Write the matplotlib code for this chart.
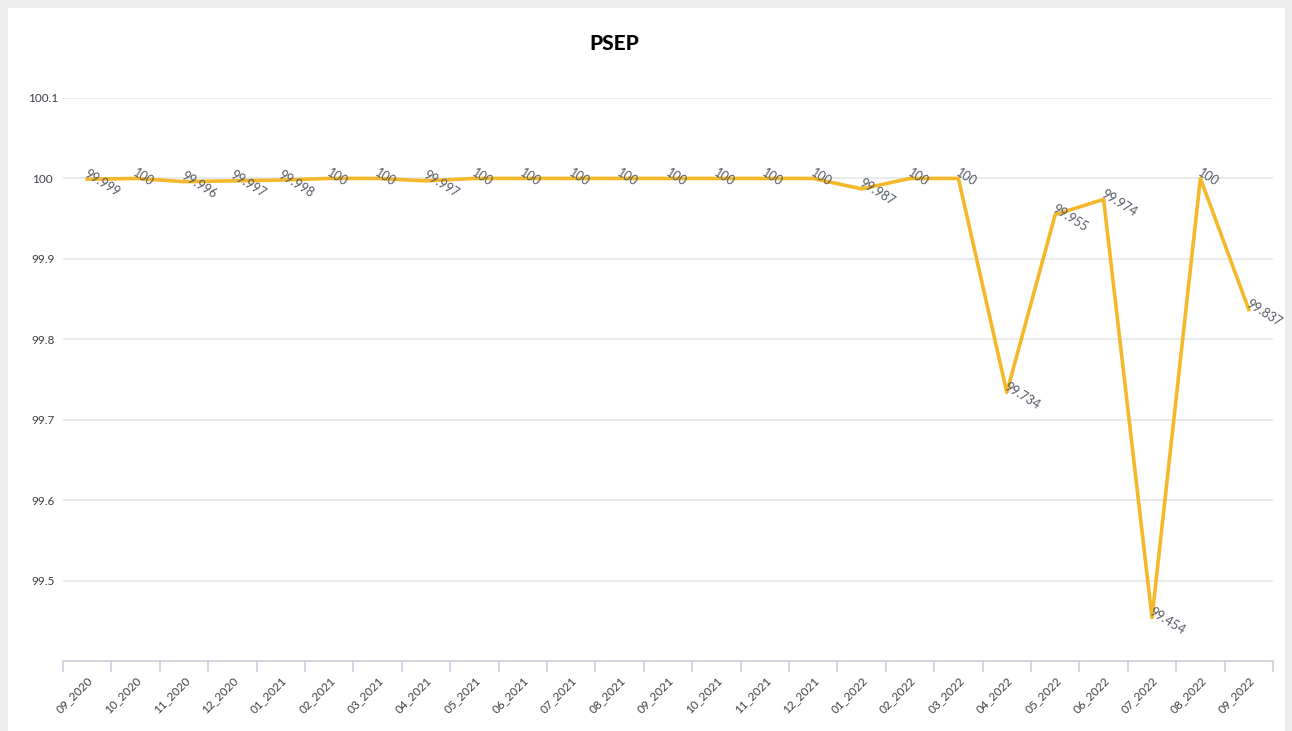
import matplotlib.pyplot as plt
from matplotlib.patches import Rectangle

plt.rcParams['font.family'] = ['Lato', 'DejaVu Sans']

months = ['09_2020', '10_2020', '11_2020', '12_2020', '01_2021', '02_2021', '03_2021',
          '04_2021', '05_2021', '06_2021', '07_2021', '08_2021', '09_2021', '10_2021',
          '11_2021', '12_2021', '01_2022', '02_2022', '03_2022', '04_2022', '05_2022',
          '06_2022', '07_2022', '08_2022', '09_2022']
psep = [99.999, 100, 99.996, 99.997, 99.998, 100, 100, 99.997, 100, 100, 100, 100,
        100, 100, 100, 100, 99.987, 100, 100, 99.734, 99.955, 99.974, 99.454, 100, 99.837]
yticks = [99.5, 99.6, 99.7, 99.8, 99.9, 100, 100.1]

W, H = 1292, 731
fig = plt.figure(figsize=(W / 100, H / 100), dpi=100)
fig.patch.set_facecolor('#ececec')
# white card behind the chart
fig.patches.append(Rectangle((8 / W, 0), (1285 - 8) / W, (H - 8) / H,
                             transform=fig.transFigure, facecolor='white',
                             edgecolor='none', zorder=-10))

ax = fig.add_axes([63 / W, (H - 661) / H, (1273 - 63) / W, (661 - 98) / H])
ax.set_zorder(5)
ax.set_facecolor('none')

x = list(range(len(months)))
ax.plot(x, psep, color='#f4b82a', linewidth=2.6, zorder=3)

for xi, v in zip(x, psep):
    txt = '100' if v == 100 else f'{v:g}'
    ax.annotate(txt, (xi, v), xytext=(-2.5, 2.5), textcoords='offset points',
                rotation=-32, rotation_mode='anchor', ha='left', va='baseline',
                fontsize=9, color='#555a63', zorder=4)

ax.set_xlim(-0.5, len(months) - 0.5)
ax.set_ylim(99.4, 100.1)
ax.set_yticks(yticks)
ax.set_yticklabels([f'{t:g}' for t in yticks], fontsize=8.5, color='#3c3f45')
ax.tick_params(axis='y', length=0, pad=14.5)
for lbl in ax.get_yticklabels():
    lbl.set_horizontalalignment('center')
ax.grid(axis='y', color='#e2e5ea', linewidth=1.1)
ax.set_axisbelow(True)

# category axis: ticks on boundaries, labels at centres
ax.set_xticks([i - 0.5 for i in range(len(months) + 1)])
ax.set_xticklabels([])
ax.tick_params(axis='x', length=8, color='#c9d0db', width=1.2)
ax.set_xticks(x, minor=True)
ax.set_xticklabels(months, minor=True, rotation=45, ha='right', rotation_mode='anchor',
                   fontsize=8.5, color='#3c3f45')
ax.tick_params(axis='x', which='minor', length=0, pad=10)

for s in ['top', 'right', 'left']:
    ax.spines[s].set_visible(False)
ax.spines['bottom'].set_color('#c9d0db')
ax.spines['bottom'].set_linewidth(1.2)

fig.text(614 / W, 1 - 44 / H, 'PSEP', ha='center', va='center',
         fontsize=15, fontweight='black', color='black')

fig.savefig('out.png', dpi=100, facecolor=fig.get_facecolor())
